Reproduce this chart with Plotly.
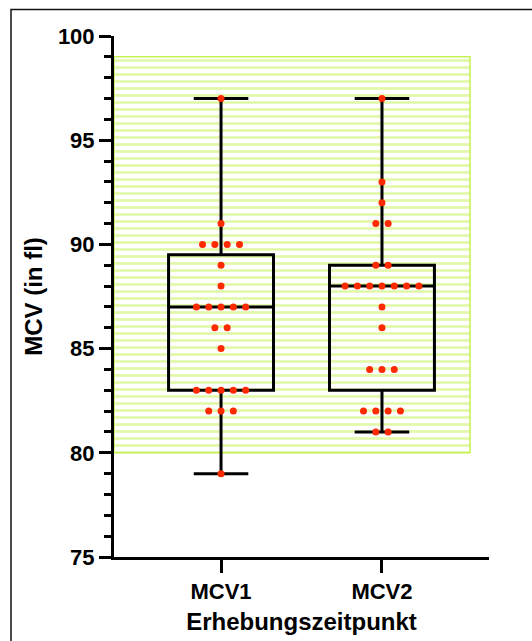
import numpy as np
import plotly.graph_objects as go

# Measurement groups and their MCV values (fl)
groups = ["MCV1", "MCV2"]
mcv1 = [97, 91, 90, 90, 90, 90, 89, 88, 87, 87, 87, 87, 87,
        86, 86, 85, 83, 83, 83, 83, 83, 82, 82, 82, 79]
mcv2 = [97, 93, 92, 91, 91, 89, 89, 88, 88, 88, 88, 88, 88, 88,
        87, 86, 84, 84, 84, 82, 82, 82, 82, 81, 81]
values = [mcv1, mcv2]

# Reference range for MCV (fl)
ref_low, ref_high = 80, 99

# y axis ticks
y_ticks = [75, 80, 85, 90, 95, 100]

# layout geometry
X_RANGE = [0.335, 2.665]
BAND_RIGHT = 2.547
BOX_WIDTH = 0.652
DOT_STEP = 0.0765
GREEN = "#c4f254"
RED = "#ff2a00"
FONT = "Liberation Sans, Arial, sans-serif"

fig = go.Figure()

# hatched reference band
fig.add_trace(go.Bar(
    x=[(X_RANGE[0] + BAND_RIGHT) / 2],
    y=[ref_high - ref_low],
    base=[ref_low],
    width=[BAND_RIGHT - X_RANGE[0]],
    marker=dict(
        color="white",
        line=dict(color=GREEN, width=1.5),
        pattern=dict(shape="-", fgcolor=GREEN, bgcolor="white",
                     size=7, solidity=0.38, fillmode="overlay"),
    ),
    hoverinfo="skip",
    showlegend=False,
))

# box plots
for i, (name, vals) in enumerate(zip(groups, values)):
    pos = i + 1
    fig.add_trace(go.Box(
        y=vals,
        x=[pos] * len(vals),
        name=name,
        width=BOX_WIDTH,
        whiskerwidth=0.52,
        boxpoints=False,
        quartilemethod="exclusive",
        fillcolor="rgba(0,0,0,0)",
        line=dict(color="black", width=3),
        showlegend=False,
    ))

# scatter dots, spread horizontally when values repeat
for i, vals in enumerate(values):
    pos = i + 1
    xs, ys = [], []
    uniq, counts = np.unique(vals, return_counts=True)
    for v, n in zip(uniq, counts):
        for k in range(n):
            xs.append(pos + (k - (n - 1) / 2) * DOT_STEP)
            ys.append(v)
    fig.add_trace(go.Scatter(
        x=xs, y=ys, mode="markers",
        marker=dict(color=RED, size=7, line=dict(width=0)),
        showlegend=False,
    ))

W, H = 532, 641
ML, MR, MT, MB = 114, 43, 36, 84
pw, ph = W - ML - MR, H - MT - MB

# outer frame
fig.add_shape(
    type="rect", xref="paper", yref="paper",
    x0=(11 - ML) / pw, x1=1.3,
    y0=-0.3, y1=(H - MB - 9.5) / ph,
    line=dict(color="#111111", width=1.5),
    fillcolor="rgba(0,0,0,0)", layer="above",
)

fig.update_layout(
    width=W, height=H,
    margin=dict(l=ML, r=MR, t=MT, b=MB, autoexpand=False),
    plot_bgcolor="white", paper_bgcolor="white",
    font=dict(family=FONT, color="black"),
    barmode="overlay",
    xaxis=dict(
        range=X_RANGE,
        tickvals=[1, 2], ticktext=groups,
        showline=True, linecolor="black", linewidth=3,
        ticks="outside", ticklen=13, tickwidth=3, tickcolor="black",
        tickfont=dict(family=FONT, size=22, weight="bold"),
        title=dict(text="Erhebungszeitpunkt",
                   font=dict(family=FONT, size=24, weight="bold"),
                   standoff=10),
        showgrid=False, zeroline=False, automargin=False,
    ),
    yaxis=dict(
        range=[75, 100],
        tickvals=y_ticks,
        showline=True, linecolor="black", linewidth=3,
        ticks="outside", ticklen=12, tickwidth=3, tickcolor="black",
        minor=dict(dtick=1, ticks="outside", ticklen=7, tickwidth=3,
                   tickcolor="black", showgrid=False),
        tickfont=dict(family=FONT, size=22, weight="bold"),
        title=dict(text="MCV (in fl)",
                   font=dict(family=FONT, size=24, weight="bold"),
                   standoff=9),
        showgrid=False, zeroline=False, automargin=False,
    ),
)

fig.write_html("out.html")
